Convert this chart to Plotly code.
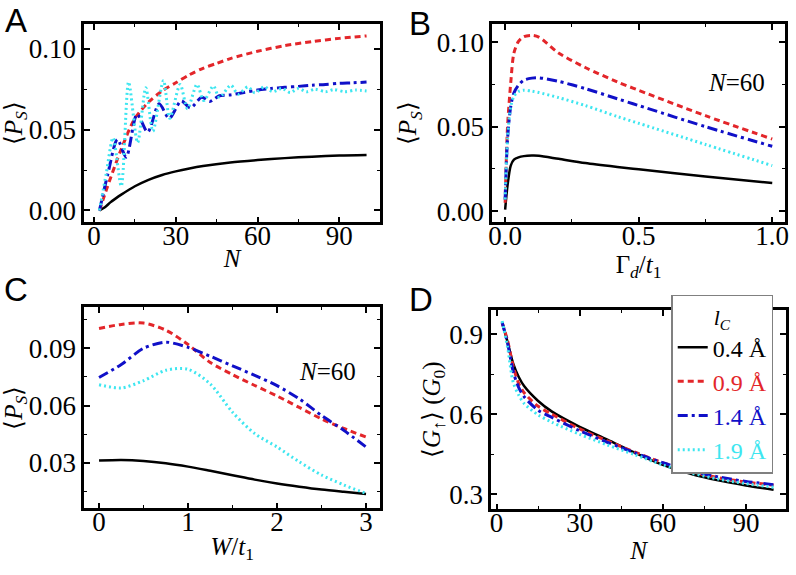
import plotly.graph_objects as go

# ---------------- data ----------------
# Panel A: <P_S> vs N
a_n_black = [2, 4, 6, 8, 10, 15, 20, 25, 30, 35, 40, 50, 60, 70, 80, 90, 100]
a_black = [0.0, 0.002, 0.005, 0.0075, 0.0098, 0.0150, 0.0190, 0.0220, 0.0242, 0.0260, 0.0275, 0.0297, 0.0312, 0.0324, 0.0333, 0.0340, 0.0344]
a_n_red = [2, 5, 10, 15, 20, 25, 30, 35, 40, 45, 50, 60, 70, 80, 90, 100]
a_red = [0.0, 0.015, 0.038, 0.057, 0.067, 0.074, 0.079, 0.084, 0.088, 0.091, 0.094, 0.0985, 0.102, 0.1045, 0.1065, 0.108]
a_n_blue = [2, 5, 8.6, 11.8, 15.8, 19.7, 23.9, 27.6, 32, 35.4, 39.5, 42.5, 46, 50, 55, 60, 65, 70, 75, 80, 85, 90, 95, 100]
a_blue = [0.0, 0.022, 0.044, 0.033, 0.0596, 0.0485, 0.066, 0.057, 0.0678, 0.0635, 0.070, 0.0675, 0.071, 0.0715, 0.073, 0.0745, 0.0755, 0.0762, 0.0768, 0.0775, 0.078, 0.0787, 0.079, 0.0795]
a_n_cyan = [2, 4.5, 7, 10, 12.7, 16, 19, 21.6, 25.5, 27.8, 31.6, 34.3, 37.8, 40.3, 43.8, 46, 50.2, 52.8, 56.5, 59, 62.5, 65.5, 69, 72, 75, 78, 81, 85, 88, 92, 96, 100]
a_cyan = [0.0, 0.023, 0.045, 0.015, 0.0795, 0.042, 0.076, 0.049, 0.0805, 0.057, 0.078, 0.063, 0.078, 0.068, 0.077, 0.070, 0.0775, 0.072, 0.0765, 0.0728, 0.0765, 0.0735, 0.0755, 0.073, 0.0755, 0.0735, 0.075, 0.0735, 0.0748, 0.0735, 0.0745, 0.074]

# Panel B: <P_S> vs Gamma_d/t1 (N=60)
b_g = [0.0, 0.009, 0.021, 0.033, 0.05, 0.07, 0.1, 0.126, 0.2, 0.3, 0.42, 0.5, 0.75, 1.0]
b_black = [0.001, 0.0153, 0.027, 0.0305, 0.0319, 0.0326, 0.0329, 0.0328, 0.0310, 0.0285, 0.0262, 0.0248, 0.0205, 0.0167]
b_red = [0.005, 0.050, 0.076, 0.0936, 0.1004, 0.1032, 0.1040, 0.1030, 0.0936, 0.0850, 0.0765, 0.0715, 0.0565, 0.0427]
b_blue = [0.007, 0.0427, 0.062, 0.070, 0.0745, 0.0775, 0.0787, 0.0789, 0.0768, 0.0725, 0.0665, 0.0625, 0.0500, 0.0384]
b_cyan = [0.007, 0.0427, 0.062, 0.068, 0.0708, 0.0716, 0.0710, 0.0702, 0.0672, 0.0625, 0.0560, 0.0520, 0.0395, 0.0270]

# Panel C: <P_S> vs W/t1 (N=60)
c_w = [0.0, 0.25, 0.5, 0.75, 1.0, 1.25, 1.5, 1.75, 2.0, 2.25, 2.5, 2.75, 3.0]
c_black = [0.0312, 0.0315, 0.0310, 0.0298, 0.0280, 0.0258, 0.0235, 0.0212, 0.0192, 0.0175, 0.0160, 0.0148, 0.0137]
c_red = [0.1004, 0.1025, 0.1032, 0.0995, 0.0920, 0.0825, 0.0762, 0.0705, 0.0650, 0.0590, 0.0530, 0.0480, 0.0435]
c_blue = [0.0747, 0.0815, 0.0900, 0.0932, 0.0905, 0.0858, 0.0808, 0.0758, 0.0704, 0.0635, 0.0548, 0.0470, 0.0383]
c_cyan = [0.0709, 0.0692, 0.0730, 0.0785, 0.0790, 0.0713, 0.0565, 0.0453, 0.0383, 0.0305, 0.0236, 0.0184, 0.0140]

# Panel D: <G_up> (G0) vs N
d_n = [2, 4, 6, 8, 10, 15, 20, 30, 40, 50, 60, 70, 80, 90, 100]
d_black = [0.945, 0.870, 0.790, 0.740, 0.705, 0.650, 0.610, 0.553, 0.505, 0.455, 0.410, 0.377, 0.352, 0.333, 0.317]
d_red = [0.945, 0.875, 0.780, 0.715, 0.680, 0.630, 0.600, 0.545, 0.500, 0.458, 0.418, 0.386, 0.362, 0.346, 0.334]
d_blue = [0.945, 0.865, 0.760, 0.700, 0.665, 0.615, 0.588, 0.538, 0.495, 0.455, 0.418, 0.388, 0.365, 0.348, 0.336]
d_cyan = [0.950, 0.850, 0.720, 0.672, 0.640, 0.598, 0.570, 0.525, 0.485, 0.448, 0.410, 0.380, 0.357, 0.340, 0.326]

legend_labels = ["0.4 Å", "0.9 Å", "1.4 Å", "1.9 Å"]

# ---------------- styles ----------------
COLORS = ["#000000", "#e3262a", "#1010c8", "#3ee6f0"]
DASHES = ["solid", "6px,4px", "10px,4px,3px,4px", "2px,3px"]
WIDTHS = [2.5, 3, 3, 3]
SERIF = "Liberation Serif"
SANS = "Liberation Sans"
TICK_SIZE = 27

fig = go.Figure()

panels = [
    ("x", "y", [a_n_black, a_n_red, a_n_blue, a_n_cyan], [a_black, a_red, a_blue, a_cyan]),
    ("x2", "y2", [b_g] * 4, [b_black, b_red, b_blue, b_cyan]),
    ("x3", "y3", [c_w] * 4, [c_black, c_red, c_blue, c_cyan]),
    ("x4", "y4", [d_n] * 4, [d_black, d_red, d_blue, d_cyan]),
]

for pi, (xa, ya, xs, ys) in enumerate(panels):
    for k in range(4):
        name = "<span style='color:%s'>%s</span>" % (COLORS[k], legend_labels[k])
        fig.add_trace(go.Scatter(
            x=xs[k], y=ys[k], xaxis=xa, yaxis=ya, mode="lines",
            line=dict(color=COLORS[k], dash=DASHES[k], width=WIDTHS[k], shape="spline", smoothing=0.8),
            name=name, showlegend=(pi == 3), legendgroup=str(k),
        ))

W, H = 796, 575
def px(x0, x1):
    return [x0 / W, x1 / W]
def py(y0, y1):
    return [1 - y1 / H, 1 - y0 / H]

def xaxis(dom, anchor, rng, tickvals, ticktext, minor_dtick, title, standoff):
    return dict(domain=dom, anchor=anchor, range=rng, tickmode="array", tickvals=tickvals, ticktext=ticktext,
                ticks="inside", ticklen=6, tickwidth=1.6, tickcolor="black", mirror="allticks",
                showline=True, linewidth=2.5, linecolor="black", showgrid=False, zeroline=False,
                minor=dict(ticks="inside", ticklen=3.5, tickwidth=1.4, tickcolor="black", dtick=minor_dtick, showgrid=False),
                tickfont=dict(family=SERIF, size=TICK_SIZE, color="black"), ticklabelstandoff=-13,
                title=dict(text=title, font=dict(family=SERIF, size=25, color="black"), standoff=standoff))

def yaxis(dom, anchor, rng, tickvals, ticktext, minor_dtick, minor_tick0, title, standoff):
    return dict(domain=dom, anchor=anchor, range=rng, tickmode="array", tickvals=tickvals, ticktext=ticktext,
                ticks="inside", ticklen=6, tickwidth=1.6, tickcolor="black", mirror="allticks",
                showline=True, linewidth=2.5, linecolor="black", showgrid=False, zeroline=False,
                minor=dict(ticks="inside", ticklen=3.5, tickwidth=1.4, tickcolor="black", dtick=minor_dtick, tick0=minor_tick0, showgrid=False),
                tickfont=dict(family=SERIF, size=TICK_SIZE, color="black"),
                title=dict(text=title, font=dict(family=SERIF, size=25, color="black"), standoff=standoff))

ps_title = "⟨<i>P</i><sub><i>S</i></sub>⟩"

fig.update_layout(
    width=W, height=H, margin=dict(l=0, r=0, t=0, b=0),
    paper_bgcolor="white", plot_bgcolor="white",
    font=dict(family=SERIF, color="black"),
    xaxis=xaxis(px(81, 380), "y", [-3.6, 105], [0, 30, 60, 90], ["0", "30", "60", "90"], 15, "<i>N</i>", 0),
    yaxis=yaxis(py(24, 224), "x", [-0.0074, 0.1155], [0, 0.05, 0.10], ["0.00", "0.05", "0.10"], 0.025, 0, ps_title, 4),
    xaxis2=xaxis(px(493, 789), "y2", [-0.049, 1.048], [0, 0.5, 1.0], ["0.0", "0.5", "1.0"], 0.25, "Γ<sub><i>d</i></sub>/<i>t</i><sub>1</sub>", 0),
    yaxis2=yaxis(py(24, 224), "x2", [-0.0066, 0.1108], [0, 0.05, 0.10], ["0.00", "0.05", "0.10"], 0.025, 0, ps_title, 13),
    xaxis3=xaxis(px(81, 380), "y3", [-0.167, 3.159], [0, 1, 2, 3], ["0", "1", "2", "3"], 0.5, "<i>W</i>/<i>t</i><sub>1</sub>", 2),
    yaxis3=yaxis(py(309, 512), "x3", [0.0061, 0.1117], [0.03, 0.06, 0.09], ["0.03", "0.06", "0.09"], 0.015, 0.015, ps_title, 3),
    xaxis4=xaxis(px(492, 790), "y4", [-2.0, 104.5], [0, 30, 60, 90], ["0", "30", "60", "90"], 15, "<i>N</i>", 5),
    yaxis4=yaxis(py(312, 513), "x4", [0.243, 0.992], [0.3, 0.6, 0.9], ["0.3", "0.6", "0.9"], 0.15, 0.15,
                 "⟨<i>G</i><sub>↑</sub>⟩ (<i>G</i><sub>0</sub>)", 2),
    legend=dict(x=674 / W, y=1 - 297 / H, xanchor="left", yanchor="top",
                bgcolor="white", bordercolor="#808080", borderwidth=1.5,
                font=dict(family=SERIF, size=24), tracegroupgap=0, itemwidth=30,
                title=dict(text="<i>l</i><sub><i>C</i></sub>", side="top center",
                           font=dict(family=SERIF, size=22, color="black"))),
    showlegend=True,
)

annotations = [
    dict(text="A", x=12 / W, y=1 - 21 / H, font=dict(family=SANS, size=33, color="black")),
    dict(text="B", x=420 / W, y=1 - 24 / H, font=dict(family=SANS, size=33, color="black")),
    dict(text="C", x=12 / W, y=1 - 292 / H, font=dict(family=SANS, size=33, color="black")),
    dict(text="D", x=421 / W, y=1 - 302 / H, font=dict(family=SANS, size=33, color="black")),
    dict(text="<i>N</i>=60", x=740 / W, y=1 - 83 / H, font=dict(family=SERIF, size=25, color="black")),
    dict(text="<i>N</i>=60", x=327 / W, y=1 - 374 / H, font=dict(family=SERIF, size=25, color="black")),
]
for a in annotations:
    a.update(xref="paper", yref="paper", showarrow=False, xanchor="center", yanchor="middle")
fig.update_layout(annotations=annotations)

fig.write_html("out.html", config={"displayModeBar": False},
               post_script="document.body.style.margin='0px';document.body.style.padding='0px';")
